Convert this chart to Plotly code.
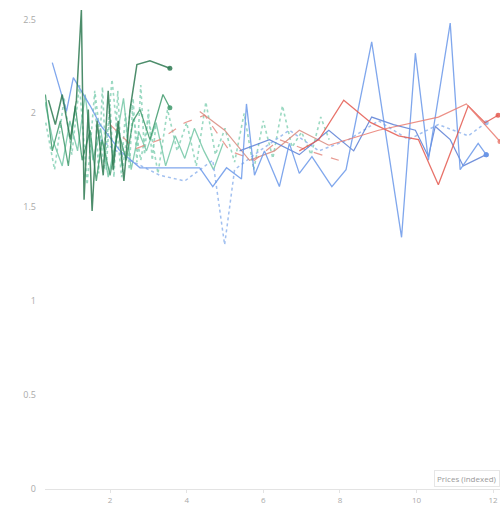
import plotly.graph_objects as go

# ---- data ----
dkgreen_x = [0.39, 0.57, 0.75, 0.96, 1.12, 1.25, 1.32, 1.43, 1.53, 1.66, 1.82, 1.95, 2.08, 2.21, 2.36, 2.52, 2.70, 3.04, 3.56]
dkgreen_y = [2.07, 1.94, 2.10, 1.86, 2.07, 2.55, 1.54, 2.02, 1.48, 1.96, 1.67, 2.12, 1.70, 1.96, 1.64, 2.02, 2.26, 2.28, 2.24]

green_x = [0.31, 0.49, 0.70, 0.91, 1.09, 1.27, 1.48, 1.64, 1.79, 2.00, 2.21, 2.42, 2.60, 2.78, 3.04, 3.38, 3.56]
green_y = [2.10, 1.80, 1.96, 1.72, 2.04, 1.75, 1.91, 1.64, 1.86, 1.67, 1.91, 1.75, 1.96, 2.02, 1.86, 2.10, 2.03]

mint_x = [0.32, 0.55, 0.8, 1.0, 1.2, 1.4, 1.6, 1.85, 2.05, 2.3, 2.55, 2.8, 3.0, 3.25, 3.5, 3.75, 4.0, 4.25,
          4.5, 4.75, 5.0, 5.25, 5.5, 5.75, 6.0, 6.25, 6.5, 6.75, 7.0, 7.25, 7.5, 7.72]
mint_y = [1.95, 1.70, 2.08, 1.78, 2.15, 1.62, 2.12, 1.70, 2.18, 1.66, 2.05, 1.75, 1.98, 1.68, 2.02, 1.80, 1.95, 1.72,
          2.06, 1.78, 1.92, 1.74, 2.00, 1.70, 1.96, 1.76, 2.04, 1.82, 1.90, 1.78, 1.98, 1.86]

mint2_x = [1.6, 1.7, 1.8, 1.9, 2.0, 2.1, 2.2, 2.3, 2.4, 2.5, 2.6, 2.7, 2.8, 2.9, 3.0, 3.1, 3.2]
mint2_y = [2.10, 1.68, 2.14, 1.70, 2.05, 1.66, 2.12, 1.72, 2.00, 1.70, 2.08, 1.74, 2.15, 1.78, 2.02, 1.75, 1.95]

teal_x = [0.3, 0.5, 0.75, 0.95, 1.15, 1.35, 1.55, 1.75, 1.95, 2.15, 2.35, 2.55, 2.75, 2.95, 3.2, 3.45, 3.7, 3.95,
          4.2, 4.45, 4.7, 4.95]
teal_y = [2.06, 1.86, 1.72, 1.96, 1.80, 2.10, 1.75, 1.92, 1.66, 1.85, 2.08, 1.70, 1.90, 1.80, 1.95, 1.72, 1.88, 1.76,
          1.92, 1.80, 1.70, 1.84]

blue_x = [0.49, 0.86, 1.04, 1.48, 1.74, 2.26, 2.78, 3.30, 4.34, 4.68, 5.04, 5.43, 5.56, 5.77, 6.03, 6.42, 6.68, 6.94,
          7.27, 7.79, 8.16, 8.83, 9.61, 9.97, 10.31, 10.88, 11.14, 11.61, 11.82]
blue_y = [2.27, 2.01, 2.19, 2.04, 1.94, 1.80, 1.71, 1.71, 1.71, 1.61, 1.71, 1.65, 2.05, 1.67, 1.80, 1.61, 1.84, 1.68,
          1.77, 1.61, 1.70, 2.38, 1.34, 2.32, 1.75, 2.48, 1.70, 1.84, 1.78]

blue2_x = [5.38, 6.16, 6.94, 7.71, 8.36, 8.83, 9.40, 9.97, 10.31, 10.49, 10.88, 11.22, 11.82]
blue2_y = [1.80, 1.86, 1.78, 1.91, 1.80, 1.98, 1.94, 1.91, 1.77, 1.93, 1.86, 1.72, 1.78]

ltblue_x = [1.74, 2.52, 3.30, 3.95, 4.68, 4.99, 5.25, 5.90, 6.68, 7.45, 8.23, 9.01, 9.79, 10.57, 11.35, 11.82]
ltblue_y = [1.86, 1.75, 1.67, 1.64, 1.75, 1.30, 1.70, 1.80, 1.91, 1.80, 1.86, 1.96, 1.86, 1.94, 1.88, 1.95]

red_x = [6.94, 7.45, 8.10, 8.81, 9.53, 10.05, 10.57, 11.35, 11.79, 12.13]
red_y = [1.80, 1.86, 2.07, 1.95, 1.88, 1.86, 1.62, 2.04, 1.95, 1.99]

red2_x = [7.71, 9.01, 10.57, 11.30, 12.18]
red2_y = [1.83, 1.91, 1.98, 2.05, 1.85]

reddash_x = [2.0, 2.65, 3.30, 3.95, 4.47, 5.12, 5.77, 6.42, 7.19, 7.97]
reddash_y = [1.94, 1.81, 1.86, 1.95, 1.99, 1.80, 1.75, 1.86, 1.80, 1.75]

salmon_x = [4.34, 4.99, 5.64, 6.29, 6.94, 7.71]
salmon_y = [2.01, 1.91, 1.75, 1.80, 1.91, 1.83]

x_ticks = [2, 4, 6, 8, 10, 12]
y_ticks = [0, 0.5, 1, 1.5, 2, 2.5]

fig = go.Figure()


def add(xs, ys, color, dash="solid", width=1.3, end_marker=False, opacity=0.85):
    fig.add_trace(go.Scatter(x=xs, y=ys, mode="lines", line=dict(color=color, width=width, dash=dash),
                             opacity=opacity, showlegend=False, hoverinfo="skip"))
    if end_marker:
        fig.add_trace(go.Scatter(x=xs[-1:], y=ys[-1:], mode="markers",
                                 marker=dict(color=color, size=5), opacity=opacity,
                                 showlegend=False, hoverinfo="skip"))


add(mint_x, mint_y, "#8ad3b8", dash="dot", width=1.6)
add(mint2_x, mint2_y, "#8ad3b8", dash="dot", width=1.6)
add(teal_x, teal_y, "#74c7a6", width=1.3)
add(ltblue_x, ltblue_y, "#92b6ee", dash="dot", width=1.5, end_marker=True)
add(reddash_x, reddash_y, "#e58a80", dash="dash", width=1.2)
add(salmon_x, salmon_y, "#d98a7e", width=1.2)
add(blue2_x, blue2_y, "#5b7fd6", width=1.2, end_marker=True)
add(blue_x, blue_y, "#6a98ea", width=1.3, end_marker=True)
add(red_x, red_y, "#e55a50", width=1.3, end_marker=True)
add(red2_x, red2_y, "#ea7d72", width=1.2, end_marker=True)
add(green_x, green_y, "#3f9a6c", width=1.3, end_marker=True)
add(dkgreen_x, dkgreen_y, "#2e7a52", width=1.5, end_marker=True)

fig.add_annotation(text="Prices (indexed)", xref="paper", yref="paper", x=1, y=0.005,
                   xanchor="right", yanchor="bottom", showarrow=False,
                   font=dict(size=8, color="#999999"), bordercolor="#e6e6e6", borderwidth=1, borderpad=2)

fig.update_layout(
    width=504, height=509,
    margin=dict(l=45, r=4, t=10, b=20),
    paper_bgcolor="white", plot_bgcolor="white",
    font=dict(family="Open Sans", size=9, color="#aaaaaa"),
)
fig.update_xaxes(range=[0.3, 12.18], tickvals=x_ticks, showgrid=False, zeroline=False,
                 showline=True, linecolor="#e3e3e3", ticks="outside", tickcolor="#e3e3e3", ticklen=3,
                 tickfont=dict(size=8, color="#aaaaaa"))
fig.update_yaxes(range=[0, 2.55], tickvals=y_ticks, showgrid=False, zeroline=False,
                 showline=False, tickfont=dict(size=9, color="#aaaaaa"), ticklen=0,
                 ticklabelstandoff=8)

fig.write_html("out.html", config={"displayModeBar": False},
               post_script="document.body.style.margin='0';")
